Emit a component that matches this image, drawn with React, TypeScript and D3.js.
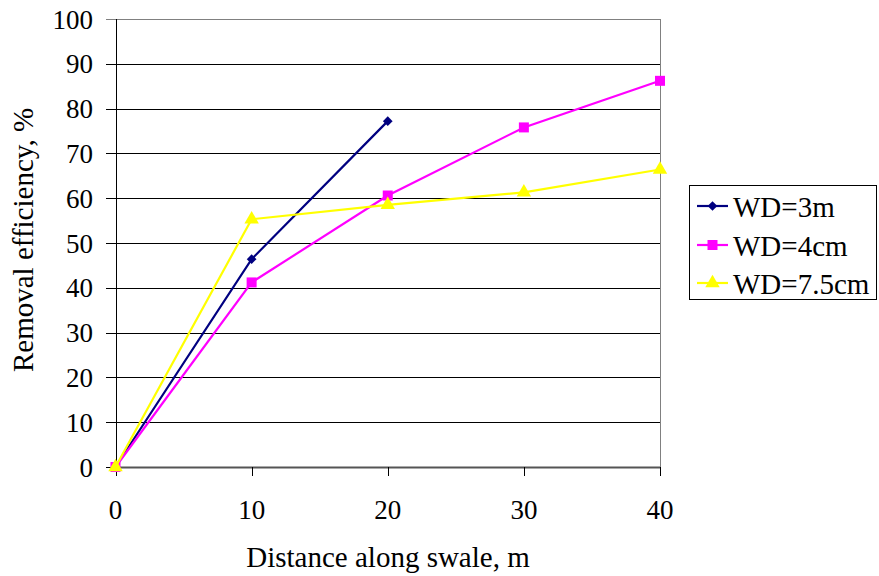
import React from "react";
import * as d3 from "d3";

const distances = [0, 10, 20, 30, 40];
const seriesNames = ["WD=3m", "WD=4cm", "WD=7.5cm"];
const wd3m = [0, 46.4, 77.2];
const wd4cm = [0, 41.2, 60.6, 75.8, 86.2];
const wd75cm = [0, 55.3, 58.5, 61.3, 66.4];
const xTicks = [0, 10, 20, 30, 40];
const yTicks = [0, 10, 20, 30, 40, 50, 60, 70, 80, 90, 100];
const xTitle = "Distance along swale, m";
const yTitle = "Removal efficiency, %";

const W = 879;
const H = 576;
const FONT = '"Liberation Serif"';
const TICK_FS = 27;
const TITLE_FS = 29;

const x = d3.scaleLinear().domain([0, 40]).range([115.5, 660]);
const y = d3.scaleLinear().domain([0, 100]).range([467, 19]);

const series = [
  { name: seriesNames[0], values: wd3m, color: "#000080", marker: "diamond" },
  { name: seriesNames[1], values: wd4cm, color: "#FF00FF", marker: "square" },
  { name: seriesNames[2], values: wd75cm, color: "#FFFF00", marker: "triangle" },
];

const symbolPath = (m: string) =>
  (m === "diamond"
    ? d3.symbol().type(d3.symbolDiamond2).size(60)
    : m === "square"
    ? d3.symbol().type(d3.symbolSquare).size(100)
    : d3.symbol().type(d3.symbolTriangle).size(90))() as string;

const lineGen = d3
  .line<[number, number]>()
  .x((d) => x(d[0]))
  .y((d) => y(d[1]));

const px = (v: number) => Math.round(v) + 0.5;

export default function App() {
  const rowY = [206, 245, 283];
  const ts = { fontFamily: FONT };
  return (
    <div style={{ position: "absolute", left: 0, top: 0, width: W, height: H, fontFamily: FONT, background: "#fff" }}>
      <svg width={W} height={H} style={{ fontFamily: FONT }}>
        {yTicks.map((d) => (
          <line
            key={"g" + d}
            x1={106}
            x2={x(40)}
            y1={px(y(d))}
            y2={px(y(d))}
            stroke={d === 100 ? "#808080" : "#000"}
          />
        ))}
        <line x1={px(x(40))} x2={px(x(40))} y1={y(100)} y2={y(0)} stroke="#808080" />
        <line x1={x(0)} x2={x(40)} y1={px(y(0))} y2={px(y(0))} stroke="#555" strokeWidth={2} />
        <line x1={px(x(0))} x2={px(x(0))} y1={y(100)} y2={y(0) + 9} stroke="#000" />
        {xTicks.map((d) => (
          <line key={"t" + d} x1={px(x(d))} x2={px(x(d))} y1={y(0)} y2={y(0) + 9} stroke="#000" />
        ))}
        {yTicks.map((d) => (
          <text key={"yl" + d} x={93} y={y(d) + 9.5} textAnchor="end" fontSize={TICK_FS} style={ts}>
            {String(d)}
          </text>
        ))}
        {xTicks.map((d) => (
          <text key={"xl" + d} x={x(d)} y={519} textAnchor="middle" fontSize={TICK_FS} style={ts}>
            {String(d)}
          </text>
        ))}
        <text x={388} y={567} textAnchor="middle" fontSize={TITLE_FS} style={ts}>
          {xTitle}
        </text>
        <text transform="translate(33,240) rotate(-90)" textAnchor="middle" fontSize={TITLE_FS} style={ts}>
          {yTitle}
        </text>
        {series.map((s) => {
          const pts: [number, number][] = s.values.map((v, i) => [distances[i], v]);
          return (
            <g key={s.name}>
              <path d={lineGen(pts) as string} fill="none" stroke={s.color} strokeWidth={2.2} />
              {pts.map((p, i) => (
                <path key={i} transform={`translate(${x(p[0])},${y(p[1])})`} d={symbolPath(s.marker)} fill={s.color} />
              ))}
            </g>
          );
        })}
        <rect x={689.5} y={185.5} width={187} height={114} fill="#fff" stroke="#000" />
        {series.map((s, i) => (
          <g key={"lg" + s.name}>
            <line x1={697} x2={728} y1={rowY[i]} y2={rowY[i]} stroke={s.color} strokeWidth={2.2} />
            <path transform={`translate(712.5,${rowY[i]})`} d={symbolPath(s.marker)} fill={s.color} />
            <text x={733} y={rowY[i] + 11} fontSize={TITLE_FS} style={ts}>
              {s.name}
            </text>
          </g>
        ))}
      </svg>
    </div>
  );
}
